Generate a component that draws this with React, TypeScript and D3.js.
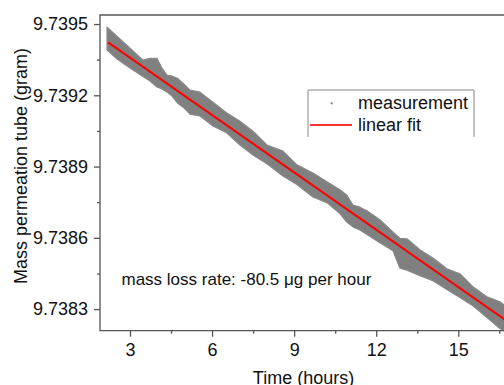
import * as d3 from 'd3'
import { useEffect, useRef } from 'react'

const timeHours = [2.16, 2.525, 3.0, 3.475, 3.731, 3.986, 4.169, 4.352, 4.535, 4.754, 4.973, 5.192, 5.558, 6.033, 6.544, 7.019, 7.494, 8.006, 8.59, 9.102, 9.686, 10.198, 10.673, 10.928, 11.148, 11.403, 11.659, 12.134, 12.609, 12.865, 13.121, 13.596, 14.071, 14.582, 15.057, 15.532, 16.043, 16.518, 16.81];
const upperMass = [9.739487, 9.739449, 9.739398, 9.739348, 9.739356, 9.739356, 9.739314, 9.739285, 9.739281, 9.73927, 9.739247, 9.739222, 9.739213, 9.739171, 9.739125, 9.739091, 9.739049, 9.738991, 9.738965, 9.738907, 9.738873, 9.738836, 9.738802, 9.738779, 9.738738, 9.738729, 9.738714, 9.738676, 9.738625, 9.738598, 9.738596, 9.73855, 9.738515, 9.73847, 9.738449, 9.738394, 9.738352, 9.738331, 9.738307];
const lowerMass = [9.739391, 9.739353, 9.739315, 9.739279, 9.73926, 9.739235, 9.739227, 9.739214, 9.739197, 9.739165, 9.739147, 9.739121, 9.739113, 9.739071, 9.739041, 9.738991, 9.738949, 9.738912, 9.73886, 9.738824, 9.738772, 9.738748, 9.738702, 9.738666, 9.738646, 9.738633, 9.738614, 9.738579, 9.738546, 9.738472, 9.738464, 9.738441, 9.738419, 9.738382, 9.738349, 9.738314, 9.738265, 9.738218, 9.738199];

// linear fit end points
const fitTime = [2.2, 16.8];
const fitMass = [9.739423, 9.738248];

const yTicks = [9.7383, 9.7386, 9.7389, 9.7392, 9.7395];
const yMinorTicks = [9.73845, 9.73875, 9.73905, 9.73935];
const xTicks = [3, 6, 9, 12, 15];
const xMinorTicks = [4.5, 7.5, 10.5, 13.5, 16.5];

const legendLabels = ['measurement', 'linear fit'];
const annotation = 'mass loss rate: -80.5 \u03bcg per hour';

const FONT = '"Liberation Sans", Arial, sans-serif';

const drawChart = (svgEl: SVGSVGElement) => {
    const width = 504;
    const height = 385;
    const left = 100, top = 15, bottom = 330.7;

    const svg = d3.select(svgEl);
    svg.selectAll('*').remove();
    svg.attr('width', width).attr('height', height);

    const x = d3.scaleLinear().domain([1.904, 17.6]).range([left, left + 15.696 * 27.36]);
    const y = d3.scaleLinear().domain([9.738209, 9.739538]).range([bottom, top]);

    // measurement cloud
    const band = d3.area<number>()
        .x(i => x(timeHours[i]))
        .y0(i => y(lowerMass[i]))
        .y1(i => y(upperMass[i]));
    svg.append('path')
        .datum(d3.range(timeHours.length))
        .attr('fill', '#808080')
        .attr('stroke', '#888')
        .attr('stroke-width', 1.2)
        .attr('stroke-linejoin', 'round')
        .attr('d', band);

    // fit
    const line = d3.line<number>()
        .x(i => x(fitTime[i]))
        .y(i => y(fitMass[i]));
    svg.append('path')
        .datum([0, 1])
        .attr('fill', 'none')
        .attr('stroke', '#f00')
        .attr('stroke-width', 2)
        .attr('d', line);

    // frame
    svg.append('path')
        .attr('d', `M${width},${top}H${left}V${bottom}H${width}`)
        .attr('fill', 'none')
        .attr('stroke', '#555')
        .attr('stroke-width', 1.3);

    const yAxis = svg.append('g')
        .attr('transform', `translate(${left},0)`)
        .call(d3.axisLeft(y).tickValues(yTicks).tickSize(6).tickPadding(6).tickFormat(d3.format('.4f')));
    yAxis.select('.domain').remove();
    yAxis.selectAll('text').attr('font-size', 18).attr('font-family', FONT).attr('fill', '#111');

    const yMinor = svg.append('g')
        .attr('transform', `translate(${left},0)`)
        .call(d3.axisLeft(y).tickValues(yMinorTicks).tickSize(3).tickFormat(() => ''));
    yMinor.select('.domain').remove();

    const xAxis = svg.append('g')
        .attr('transform', `translate(0,${bottom})`)
        .call(d3.axisBottom(x).tickValues(xTicks).tickSize(6).tickPadding(7).tickFormat(d3.format('d')));
    xAxis.select('.domain').remove();
    xAxis.selectAll('text').attr('font-size', 18).attr('font-family', FONT).attr('fill', '#111');

    const xMinor = svg.append('g')
        .attr('transform', `translate(0,${bottom})`)
        .call(d3.axisBottom(x).tickValues(xMinorTicks).tickSize(3).tickFormat(() => ''));
    xMinor.select('.domain').remove();

    svg.selectAll('.tick line').attr('stroke', '#555').attr('stroke-width', 1.3);

    // axis titles
    svg.append('text')
        .attr('x', 303.5)
        .attr('y', 384)
        .attr('text-anchor', 'middle')
        .attr('font-size', 18)
        .attr('font-family', FONT)
        .attr('fill', '#111')
        .text('Time (hours)');

    svg.append('text')
        .attr('transform', `translate(27,166) rotate(-90)`)
        .attr('text-anchor', 'middle')
        .attr('font-size', 18)
        .attr('font-family', FONT)
        .attr('fill', '#111')
        .text('Mass permeation tube (gram)');

    svg.append('text')
        .attr('x', 121.5)
        .attr('y', 285)
        .attr('font-size', 17)
        .attr('font-family', FONT)
        .attr('fill', '#111')
        .text(annotation);

    // legend
    const lg = svg.append('g');
    lg.append('path')
        .attr('d', 'M308,137V90H474V137')
        .attr('fill', '#fff')
        .attr('stroke', '#888')
        .attr('stroke-width', 1);
    lg.append('rect')
        .attr('x', 330.7).attr('y', 102.3)
        .attr('width', 2).attr('height', 2)
        .attr('fill', '#808080');
    lg.append('line')
        .attr('x1', 310).attr('x2', 352)
        .attr('y1', 125).attr('y2', 125)
        .attr('stroke', '#f33')
        .attr('stroke-width', 1.8);
    lg.selectAll('text.lab')
        .data(legendLabels)
        .join('text')
        .attr('class', 'lab')
        .attr('x', 358)
        .attr('y', (_, i) => 108.5 + i * 22)
        .attr('font-size', 18)
        .attr('font-family', FONT)
        .attr('fill', '#111')
        .text(d => d);
};

const App = () => {
    const ref = useRef<SVGSVGElement>(null);

    useEffect(() => {
        if (ref.current) drawChart(ref.current);
    }, []);

    return (
        <svg ref={ref} style={{ position: 'absolute', left: 0, top: 0, background: '#fff' }}></svg>
    );
};

export default App
